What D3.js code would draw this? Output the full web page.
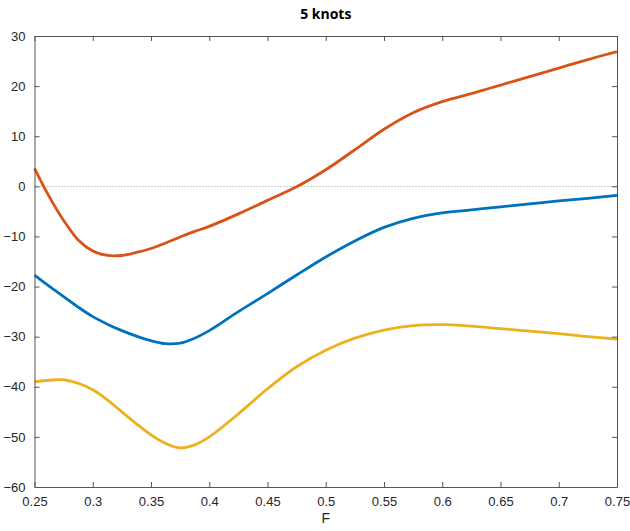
<!DOCTYPE html>
<html>
<head>
<meta charset="utf-8">
<script src="https://cdn.jsdelivr.net/npm/d3@7"></script>
<style>
  body { margin: 0; background: #fff; }
  text { font-family: "Liberation Sans", Arial, sans-serif; }
</style>
</head>
<body>
<svg id="chart" width="630" height="531"></svg>
<script>
// F values (x axis)
const fVals = [0.25, 0.2625, 0.275, 0.2875, 0.30, 0.3125, 0.325, 0.3375, 0.35, 0.3625, 0.375, 0.3875, 0.40,
  0.425, 0.45, 0.475, 0.50, 0.525, 0.55, 0.575, 0.60, 0.625, 0.65, 0.675, 0.70, 0.725, 0.75];

const blueVals = [-17.7, -19.9, -22.0, -24.1, -26.0, -27.5, -28.8, -29.9, -30.8, -31.4, -31.3, -30.3, -28.8,
  -25.0, -21.4, -17.7, -14.1, -10.9, -8.2, -6.4, -5.3, -4.7, -4.1, -3.5, -2.9, -2.4, -1.8];

const orangeVals = [3.6, -2.0, -6.8, -10.7, -12.9, -13.8, -13.8, -13.2, -12.4, -11.3, -10.1, -9.0, -8.0,
  -5.5, -2.8, -0.1, 3.3, 7.3, 11.4, 14.7, 16.9, 18.5, 20.2, 21.9, 23.6, 25.3, 26.9];

const yellowVals = [-39.0, -38.7, -38.6, -39.3, -40.6, -42.6, -45.0, -47.4, -49.6, -51.3, -52.2, -51.6, -50.0,
  -45.4, -40.4, -36.0, -32.7, -30.3, -28.7, -27.8, -27.6, -27.9, -28.4, -28.9, -29.4, -30.0, -30.5];

const xTicks = [0.25, 0.3, 0.35, 0.4, 0.45, 0.5, 0.55, 0.6, 0.65, 0.7, 0.75];
const yTicks = [-60, -50, -40, -30, -20, -10, 0, 10, 20, 30];

const series = [
  { name: "blue", values: blueVals, color: "#0072BD" },
  { name: "orange", values: orangeVals, color: "#D95319" },
  { name: "yellow", values: yellowVals, color: "#EDB120" }
];

const plotL = 34.5, plotR = 617, plotT = 36, plotB = 487;
const svg = d3.select("#chart");

const x = d3.scaleLinear().domain([0.25, 0.75]).range([plotL, plotR]);
const y = d3.scaleLinear().domain([-60, 30]).range([plotB, plotT]);

const axisColor = "#555";
const tickLen = 5;

// zero reference line
svg.append("line")
  .attr("x1", x(0.25)).attr("x2", x(0.75))
  .attr("y1", y(0)).attr("y2", y(0))
  .attr("stroke", "#999").attr("stroke-width", 1)
  .attr("stroke-dasharray", "1,2");

// curves
const line = d3.line()
  .x((d, i) => x(fVals[i]))
  .y(d => y(d))
  .curve(d3.curveCatmullRom.alpha(0.5));

svg.append("g").selectAll("path")
  .data(series)
  .enter().append("path")
  .attr("d", d => line(d.values))
  .attr("fill", "none")
  .attr("stroke", d => d.color)
  .attr("stroke-width", 2.8)
  .attr("stroke-linejoin", "round");

// axes (MATLAB-style box with inward ticks)
const fmtX = d => String(+d.toFixed(2));

const bottomAxis = d3.axisBottom(x).tickValues(xTicks).tickSizeInner(-tickLen).tickSizeOuter(0)
  .tickPadding(10).tickFormat(fmtX);
const topAxis = d3.axisTop(x).tickValues(xTicks).tickSizeInner(-tickLen).tickSizeOuter(0).tickFormat("");
const leftAxis = d3.axisLeft(y).tickValues(yTicks).tickSizeInner(-tickLen).tickSizeOuter(0).tickPadding(9);
const rightAxis = d3.axisRight(y).tickValues(yTicks).tickSizeInner(-tickLen).tickSizeOuter(0).tickFormat("");

function style(g) {
  g.select(".domain").attr("stroke", axisColor).attr("stroke-width", 1);
  g.selectAll(".tick line").attr("stroke", axisColor);
  g.selectAll(".tick text").attr("fill", "#262626").style("font-size", "13px")
    .style("font-family", "'Liberation Sans', Arial, sans-serif");
}

svg.append("g").attr("transform", `translate(0,${plotB})`).call(bottomAxis).call(style);
svg.append("g").attr("transform", `translate(0,${plotT})`).call(topAxis).call(style);
svg.append("g").attr("transform", `translate(${plotL},0)`).call(leftAxis).call(style);
svg.append("g").attr("transform", `translate(${plotR},0)`).call(rightAxis).call(style);

// title and axis label
svg.append("text")
  .attr("x", (plotL + plotR) / 2).attr("y", 19)
  .attr("text-anchor", "middle")
  .style("font-size", "14px").style("font-weight", "bold")
  .style("font-family", "'Open Sans', 'Noto Sans', sans-serif")
  .attr("fill", "#000")
  .text("5 knots");

svg.append("text")
  .attr("x", (plotL + plotR) / 2).attr("y", 523)
  .attr("text-anchor", "middle")
  .style("font-size", "14px")
  .attr("fill", "#262626")
  .text("F");
</script>
</body>
</html>
